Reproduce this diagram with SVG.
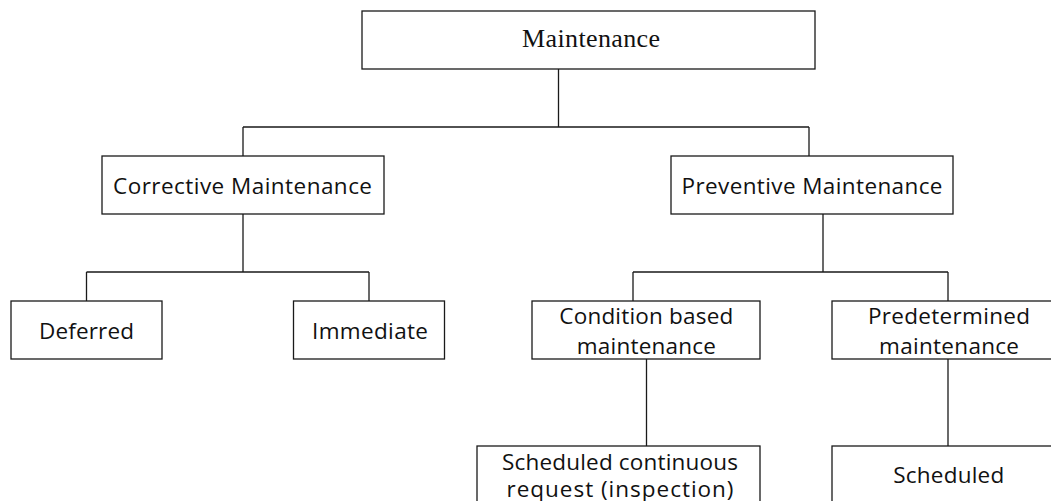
<svg xmlns="http://www.w3.org/2000/svg" width="1051" height="501" viewBox="0 0 1051 501">
<style>
.box{fill:#fff;stroke:#1a1a1a;stroke-width:1.3}
.ln{fill:none;stroke:#1a1a1a;stroke-width:1.3}
.t{font-family:"Open Sans","Liberation Sans",sans-serif;font-size:22.5px;fill:#111;text-anchor:middle}
.s{font-family:"Liberation Serif","Times New Roman",serif;font-size:26px;fill:#111;text-anchor:middle}
</style>
<rect width="1051" height="501" fill="#fff"/>
<g id="connectors">
<path class="ln" d="M558.5,69V127M243,127H809M243,127V156M809,127V156"/>
<path class="ln" d="M243,214V272M86.5,272H369M86.5,272V301M369,272V301"/>
<path class="ln" d="M823,214V272M633,272H948M633,272V301M948,272V301"/>
<path class="ln" d="M646.5,359V446"/>
<path class="ln" d="M948,359V446"/>
</g>
<g id="maintenance"><rect class="box" x="362" y="11" width="453" height="58"/><text class="s" x="591" y="47.3" textLength="138" lengthAdjust="spacing">Maintenance</text></g>
<g id="corrective"><rect class="box" x="102" y="156" width="282" height="58"/><text class="t" x="242.5" y="193.5" textLength="259" lengthAdjust="spacing">Corrective Maintenance</text></g>
<g id="preventive"><rect class="box" x="671" y="156" width="282" height="58"/><text class="t" x="812" y="193.5" textLength="261" lengthAdjust="spacing">Preventive Maintenance</text></g>
<g id="deferred"><rect class="box" x="11" y="301" width="151" height="58"/><text class="t" x="86.5" y="339.3" textLength="95" lengthAdjust="spacing">Deferred</text></g>
<g id="immediate"><rect class="box" x="293.5" y="301" width="151" height="58"/><text class="t" x="370" y="339.3" textLength="116" lengthAdjust="spacing">Immediate</text></g>
<g id="condition"><rect class="box" x="532" y="301" width="228" height="58"/><text class="t"><tspan x="646.3" y="324" textLength="174" lengthAdjust="spacing">Condition based</tspan><tspan x="646.3" y="354" textLength="139" lengthAdjust="spacing">maintenance</tspan></text></g>
<g id="predetermined"><rect class="box" x="832" y="301" width="230" height="58"/><text class="t"><tspan x="949" y="324.3" textLength="162" lengthAdjust="spacing">Predetermined</tspan><tspan x="949" y="353.5" textLength="140" lengthAdjust="spacing">maintenance</tspan></text></g>
<g id="scheduled-continuous"><rect class="box" x="477" y="446" width="283" height="64"/><text class="t"><tspan x="620" y="470.3" textLength="236" lengthAdjust="spacing">Scheduled continuous</tspan><tspan x="620" y="496.5" textLength="227" lengthAdjust="spacing">request (inspection)</tspan></text></g>
<g id="scheduled"><rect class="box" x="832" y="446" width="230" height="64"/><text class="t" x="948.7" y="483.3" textLength="111" lengthAdjust="spacing">Scheduled</text></g>
</svg>
